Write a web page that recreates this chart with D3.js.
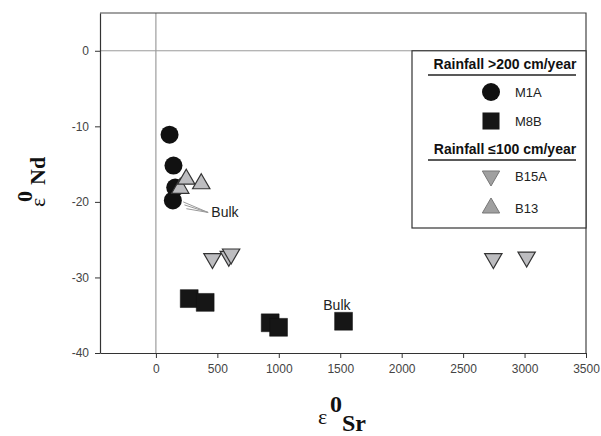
<!DOCTYPE html>
<html lang="en">
<head>
<meta charset="utf-8">
<title>eNd vs eSr</title>
<script src="https://d3js.org/d3.v7.min.js"></script>
<style>
  body { margin: 0; background: #fff; }
  text { font-family: Arial, "Liberation Sans", sans-serif; }
  .serif { font-family: "Times New Roman", "Liberation Serif", serif; }
</style>
</head>
<body>
<div id="chart"></div>
<script>
// data: [eSr, eNd]
var m1a = [[111, -11.1], [143, -15.2], [157, -18.1], [138, -19.8]];
var m8b = [[271, -32.8], [401, -33.3], [930, -36.0], [998, -36.6], [1527, -35.8]];
var b15a = [[460, -27.5], [593, -27.2], [612, -26.9], [2746, -27.5], [3017, -27.3]];
var b13 = [[198, -18.2], [247, -17.0], [369, -17.6]];
var xTicks = [0, 500, 1000, 1500, 2000, 2500, 3000, 3500];
var yTicks = [-40, -30, -20, -10, 0];
// annotation "Bulk" leader lines (data units)
var bulkLines = [[222, -20.0], [232, -20.4], [248, -20.9]];
var bulkTip = [425, -21.4];
var bulkLabels = [[451, -22.0, "Bulk"], [1362, -34.3, "Bulk"]];

var W = 601, H = 436;
var svg = d3.select("#chart").append("svg")
  .attr("width", W).attr("height", H);

var x = d3.scaleLinear().domain([-455, 3500]).range([100, 586]);
var y = d3.scaleLinear().domain([-40, 5]).range([353, 13]);

// zero reference lines
svg.append("line")
  .attr("x1", x(0)).attr("x2", x(0)).attr("y1", y(5)).attr("y2", y(-40))
  .attr("stroke", "#8a8a8a").attr("stroke-width", 1);
svg.append("line")
  .attr("x1", x(-455)).attr("x2", x(3500)).attr("y1", y(0)).attr("y2", y(0))
  .attr("stroke", "#9a9a9a").attr("stroke-width", 1);

// frame top/right
svg.append("path")
  .attr("d", "M" + x(-455) + "," + y(5) + "H" + x(3500) + "V" + y(-40))
  .attr("fill", "none").attr("stroke", "#444").attr("stroke-width", 1.2);

// axes
var plain = function (d) { return String(d); };
var gx = svg.append("g")
  .attr("transform", "translate(0," + y(-40) + ")")
  .call(d3.axisBottom(x).tickValues(xTicks).tickFormat(plain).tickSize(5).tickSizeOuter(0).tickPadding(6));
var gy = svg.append("g")
  .attr("transform", "translate(" + x(-455) + ",0)")
  .call(d3.axisLeft(y).tickValues(yTicks).tickFormat(plain).tickSize(5).tickSizeOuter(0).tickPadding(6));
[gx, gy].forEach(function (g) {
  g.select(".domain").attr("stroke", "#333").attr("stroke-width", 1.2);
  g.selectAll(".tick line").attr("stroke", "#333");
  g.selectAll(".tick text").attr("fill", "#444")
    .style("font-size", "12px").style("font-family", "Arial, 'Liberation Sans', sans-serif");
});

// bulk leader lines
svg.append("g").selectAll("line")
  .data(bulkLines).enter().append("line")
  .attr("x1", function (d) { return x(d[0]); })
  .attr("y1", function (d) { return y(d[1]); })
  .attr("x2", x(bulkTip[0])).attr("y2", y(bulkTip[1]))
  .attr("stroke", "#999").attr("stroke-width", 1);

var sym = function (type, size) { return d3.symbol().type(type).size(size)(); };

// points
var pts = svg.append("g");
pts.selectAll(".m8b").data(m8b).enter().append("path")
  .attr("d", sym(d3.symbolSquare, 320))
  .attr("transform", function (d) { return "translate(" + x(d[0]) + "," + y(d[1]) + ")"; })
  .attr("fill", "#161616").attr("stroke", "#111").attr("stroke-width", 0.5);
pts.selectAll(".b15a").data(b15a).enter().append("path")
  .attr("d", sym(d3.symbolTriangle, 130))
  .attr("transform", function (d) { return "translate(" + x(d[0]) + "," + y(d[1]) + ") rotate(180)"; })
  .attr("fill", "#bdbdc0").attr("stroke", "#333").attr("stroke-width", 1.2);
pts.selectAll(".m1a").data(m1a).enter().append("circle")
  .attr("cx", function (d) { return x(d[0]); })
  .attr("cy", function (d) { return y(d[1]); })
  .attr("r", 9)
  .attr("fill", "#111");
pts.selectAll(".b13").data(b13).enter().append("path")
  .attr("d", sym(d3.symbolTriangle, 130))
  .attr("transform", function (d) { return "translate(" + x(d[0]) + "," + y(d[1]) + ")"; })
  .attr("fill", "#bdbdc0").attr("stroke", "#333").attr("stroke-width", 1.2);

// Bulk labels
svg.selectAll(".bulk").data(bulkLabels).enter().append("text")
  .attr("x", function (d) { return x(d[0]); })
  .attr("y", function (d) { return y(d[1]); })
  .style("font-size", "14px").attr("fill", "#222")
  .text(function (d) { return d[2]; });

// legend
var lg = svg.append("g");
lg.append("rect")
  .attr("x", 412).attr("y", y(0)).attr("width", x(3500) - 412).attr("height", 228 - y(0))
  .attr("fill", "#fff").attr("stroke", "#333").attr("stroke-width", 1.2);
var headers = [["Rainfall >200 cm/year", 69], ["Rainfall \u2264100 cm/year", 154]];
headers.forEach(function (h) {
  lg.append("text").attr("x", 505).attr("y", h[1]).attr("text-anchor", "middle")
    .style("font-size", "14px").style("font-weight", "bold").attr("fill", "#111")
    .text(h[0]);
  lg.append("line").attr("x1", 428).attr("x2", 576).attr("y1", h[1] + 6).attr("y2", h[1] + 6)
    .attr("stroke", "#222").attr("stroke-width", 1.5);
});
var items = [
  {label: "M1A", y: 92, draw: function (g) { g.append("circle").attr("r", 9).attr("fill", "#111"); }},
  {label: "M8B", y: 121, draw: function (g) { g.append("path").attr("d", sym(d3.symbolSquare, 290)).attr("fill", "#161616"); }},
  {label: "B15A", y: 176, draw: function (g) { g.append("path").attr("d", sym(d3.symbolTriangle, 130)).attr("transform", "rotate(180)").attr("fill", "#a0a0a0").attr("stroke", "#777"); }},
  {label: "B13", y: 208, draw: function (g) { g.append("path").attr("d", sym(d3.symbolTriangle, 130)).attr("fill", "#a0a0a0").attr("stroke", "#777"); }}
];
items.forEach(function (it) {
  var g = lg.append("g").attr("transform", "translate(491," + it.y + ")");
  it.draw(g);
  lg.append("text").attr("x", 515).attr("y", it.y + 5)
    .style("font-size", "13px").attr("fill", "#222").text(it.label);
});

// axis titles
var xt = svg.append("text").attr("class", "serif").attr("transform", "translate(318,424)").attr("fill", "#111");
xt.append("tspan").attr("x", 0).attr("y", 0).style("font-size", "22px").text("\u03b5");
xt.append("tspan").attr("x", 12).attr("y", -12).style("font-size", "24px").style("font-weight", "bold").text("0");
xt.append("tspan").attr("x", 24).attr("y", 7).style("font-size", "24px").style("font-weight", "bold").text("Sr");

var yt = svg.append("text").attr("class", "serif").attr("transform", "translate(45,207) rotate(-90)").attr("fill", "#111");
yt.append("tspan").attr("x", 0).attr("y", 0).style("font-size", "22px").text("\u03b5");
yt.append("tspan").attr("x", 5).attr("y", -13).style("font-size", "22px").style("font-weight", "bold").text("0");
yt.append("tspan").attr("x", 22).attr("y", 0).style("font-size", "22px").style("font-weight", "bold").text("Nd");
</script>
</body>
</html>
